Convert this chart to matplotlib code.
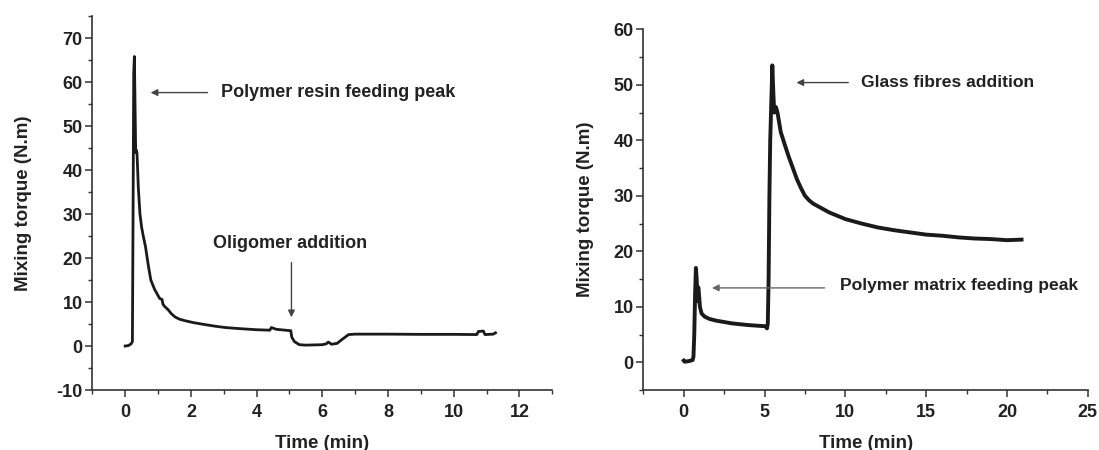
import matplotlib.pyplot as plt
from matplotlib.ticker import MultipleLocator

plt.rcParams['font.family'] = ['Liberation Sans', 'DejaVu Sans']
plt.rcParams['font.weight'] = 'bold'
plt.rcParams['axes.unicode_minus'] = False

# left panel: oligomer run
t_left = [0.0, 0.1, 0.18, 0.22, 0.24, 0.26, 0.28, 0.30, 0.32, 0.34, 0.36, 0.38, 0.40,
          0.45, 0.50, 0.55, 0.62, 0.70, 0.78, 0.90, 1.05, 1.12, 1.15, 1.20, 1.30,
          1.41, 1.52, 1.65, 1.85, 2.09, 2.40, 2.74, 3.05, 3.39, 4.0, 4.40, 4.45,
          4.60, 5.0, 5.04, 5.07, 5.15, 5.30, 5.50, 6.0, 6.12, 6.18, 6.28, 6.45,
          6.60, 6.80, 7.0, 8.0, 9.0, 10.0, 10.70, 10.75, 10.90, 10.95, 11.2, 11.27]
tq_left = [0.0, 0.1, 0.5, 1.0, 30.0, 62.0, 65.8, 55.0, 44.0, 44.5, 43.8, 40.0, 36.0,
           30.0, 27.0, 25.0, 22.5, 18.5, 15.0, 12.8, 10.8, 10.6, 9.5, 9.0, 8.3,
           7.3, 6.6, 6.1, 5.7, 5.3, 4.9, 4.5, 4.2, 4.0, 3.7, 3.6, 4.2,
           3.8, 3.5, 3.5, 2.0, 1.0, 0.3, 0.2, 0.3, 0.5, 0.9, 0.4, 0.6,
           1.5, 2.6, 2.7, 2.7, 2.65, 2.65, 2.6, 3.3, 3.4, 2.6, 2.7, 3.0]

# right panel: glass fibre run
t_right = [0.0, 0.05, 0.3, 0.55, 0.60, 0.65, 0.70, 0.75, 0.80, 0.85, 0.90, 0.95,
           1.0, 1.1, 1.3, 1.6, 2.0, 3.0, 4.0, 5.0, 5.1, 5.15, 5.20, 5.25, 5.30,
           5.35, 5.40, 5.48, 5.55, 5.60, 5.70, 5.80, 6.0, 6.25, 6.5, 6.75, 7.0,
           7.25, 7.5, 7.75, 8.0, 8.5, 9.0, 9.5, 10.0, 11.0, 12.0, 13.0, 14.0,
           15.0, 16.0, 17.0, 18.0, 19.0, 20.0, 20.9]
tq_right = [0.3, 0.1, 0.2, 0.4, 1.0, 5.0, 12.0, 17.0, 15.0, 11.0, 13.5, 12.0,
            10.0, 8.8, 8.2, 7.8, 7.5, 7.0, 6.7, 6.5, 6.4, 6.1, 7.0, 15.0, 30.0,
            40.0, 45.0, 53.5, 48.0, 45.0, 46.0, 45.0, 41.5, 39.2, 37.0, 35.0, 33.0,
            31.4, 30.0, 29.2, 28.6, 27.8, 27.0, 26.4, 25.8, 25.0, 24.3, 23.8, 23.4,
            23.0, 22.8, 22.5, 22.3, 22.2, 22.0, 22.1]

x_ticks_left = [0, 2, 4, 6, 8, 10, 12]
y_ticks_left = [-10, 0, 10, 20, 30, 40, 50, 60, 70]
x_ticks_right = [0, 5, 10, 15, 20, 25]
y_ticks_right = [0, 10, 20, 30, 40, 50, 60]

fig = plt.figure(figsize=(10.99, 4.5), dpi=100)
ax1 = fig.add_axes([0.0840, 0.1333, 0.4186, 0.8311])
ax2 = fig.add_axes([0.5854, 0.1333, 0.4044, 0.8016])

ax1.plot(t_left, tq_left, color='#1a1a1a', lw=2)
ax2.plot(t_right, tq_right, color='#1a1a1a', lw=2.8)

ax1.set_xlim(-1, 13)
ax1.set_ylim(-10, 75)
ax2.set_xlim(-2.5, 25)
ax2.set_ylim(-5, 60)

tick_font = dict(fontsize=13, fontweight='bold', color='#222222')
ax1.set_xticks(x_ticks_left, [str(v) for v in x_ticks_left], **tick_font)
ax1.set_yticks(y_ticks_left, [str(v) for v in y_ticks_left], **tick_font)
ax2.set_xticks(x_ticks_right, [str(v) for v in x_ticks_right], **tick_font)
ax2.set_yticks(y_ticks_right, [str(v) for v in y_ticks_right], **tick_font)
ax1.xaxis.set_minor_locator(MultipleLocator(1))
ax1.yaxis.set_minor_locator(MultipleLocator(5))
ax2.xaxis.set_minor_locator(MultipleLocator(2.5))
ax2.yaxis.set_minor_locator(MultipleLocator(5))

for ax in (ax1, ax2):
    ax.spines['top'].set_visible(False)
    ax.spines['right'].set_visible(False)
    for s in ('left', 'bottom'):
        ax.spines[s].set_color('#333333')
        ax.spines[s].set_linewidth(1.2)
    ax.tick_params(which='major', direction='out', length=5, width=1.1,
                   colors='#333333', labelcolor='#222222')
    ax.tick_params(axis='y', which='major', pad=2)
    ax.tick_params(axis='x', which='major', pad=5)
    ax.tick_params(which='minor', direction='out', length=3, width=1.0, colors='#333333')
    ax.set_xlabel('Time (min)', fontsize=13.5, fontweight='bold', color='#222222', labelpad=10)
    ax.set_ylabel('Mixing torque (N.m)', fontsize=13.5, fontweight='bold', color='#222222')

ax1.yaxis.set_label_coords(-0.132, 0.5)
ax2.yaxis.set_label_coords(-0.112, 0.5)

arrow = dict(arrowstyle='-|>', color='#444444', lw=1.0, mutation_scale=10)
ax1.annotate('', xy=(0.69, 57.6), xytext=(2.59, 57.6), arrowprops=arrow)
ax1.text(2.91, 57.6, 'Polymer resin feeding peak', fontsize=13, fontweight='bold',
         color='#222222', va='center')
ax1.annotate('', xy=(5.06, 5.9), xytext=(5.06, 19.6), arrowprops=arrow)
ax1.text(5.03, 23.4, 'Oligomer addition', fontsize=13, fontweight='bold',
         color='#222222', va='center', ha='center')

ax2.annotate('', xy=(6.8, 50.4), xytext=(10.35, 50.4), arrowprops=arrow)
ax2.text(10.97, 50.5, 'Glass fibres addition', fontsize=12.6, fontweight='bold',
         color='#222222', va='center')
ax2.annotate('', xy=(1.57, 13.4), xytext=(8.88, 13.4),
             arrowprops=dict(arrowstyle='-|>', color='#666666', lw=1.0, mutation_scale=10))
ax2.text(9.67, 13.8, 'Polymer matrix feeding peak', fontsize=12.6, fontweight='bold',
         color='#222222', va='center')

fig.savefig('out.png', dpi=100)
